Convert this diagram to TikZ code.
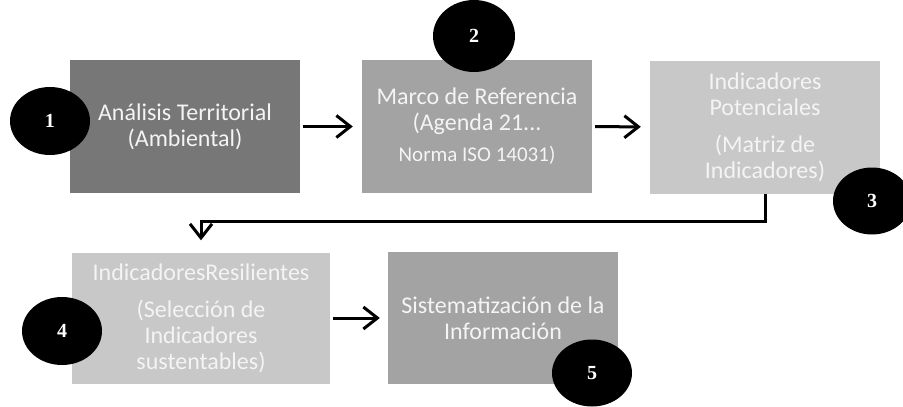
\documentclass[tikz,border=0pt]{standalone}
\usepackage{fontspec}
\setmainfont{Carlito}
\newfontfamily\numfont{Liberation Serif}
\usepackage{xcolor}
\definecolor{stepDark}   {HTML}{777777}
\definecolor{stepMid}    {HTML}{A3A3A3}
\definecolor{stepLight}  {HTML}{C8C8C8}
\definecolor{stepText}   {HTML}{F4F4F4}
\usetikzlibrary{arrows.meta, shapes.geometric}
\tikzset{
    flowarrow/.style={-{Straight Barb[length=14pt, width=22pt]},
                      line width=3pt},
}

\begin{document}
\begin{tikzpicture}[
    x=1pt, y=-1pt,
    stepbox/.style={rectangle, inner sep=0pt, align=center, text=stepText,
                    minimum width=230pt, minimum height=133pt,
                    font=\fontsize{24}{26}\selectfont},
    numdot/.style={ellipse, fill=black, inner sep=0pt, text=white,
                   minimum width=80pt, minimum height=68pt,
                   font=\numfont\bfseries\fontsize{20}{20}\selectfont},
]
\useasboundingbox (0,0) rectangle (903,407);
% --- top row ---
\node[stepbox, fill=stepDark] (box-1) at (185,126.5)
    {Análisis Territorial\\(Ambiental)};
\node[stepbox, fill=stepMid] (box-2) at (477,126.5)
    {Marco de Referencia\\(Agenda 21...\\[5pt]
     {\fontsize{21}{23}\selectfont Norma ISO 14031)}};
\node[stepbox, fill=stepLight] (box-3) at (765,127)
    {Indicadores\\Potenciales\\[11pt](Matriz de\\Indicadores)};
% --- bottom row ---
\node[stepbox, fill=stepLight, minimum width=258pt, minimum height=131pt]
    (box-4) at (201,318)
    {IndicadoresResilientes\\[11pt](Selección de\\Indicadores\\sustentables)};
\node[stepbox, fill=stepMid, minimum height=132pt] (box-5) at (503,318)
    {Sistematización de la\\Información};
% --- connectors ---
\draw[flowarrow, shorten <=3pt, shorten >=9pt] (box-1) -- (box-2);
\draw[flowarrow, shorten <=3pt, shorten >=9pt] (box-2) -- (box-3);
\draw[flowarrow, shorten >=12pt] (box-3.south) -- ++(0,28) -| (box-4.north);
\draw[flowarrow, shorten <=3pt, shorten >=8pt] (box-4) -- (box-5);
% --- step numbers ---
\node[numdot] (num-1) at (50,121) {1};
\node[numdot, minimum width=82pt, minimum height=72pt] (num-2) at (474,36) {2};
\node[numdot, minimum width=78pt, minimum height=67pt] (num-3) at (872,201) {3};
\node[numdot] (num-4) at (62,331) {4};
\node[numdot, minimum height=67pt] (num-5) at (592,373) {5};
\end{tikzpicture}
\end{document}
